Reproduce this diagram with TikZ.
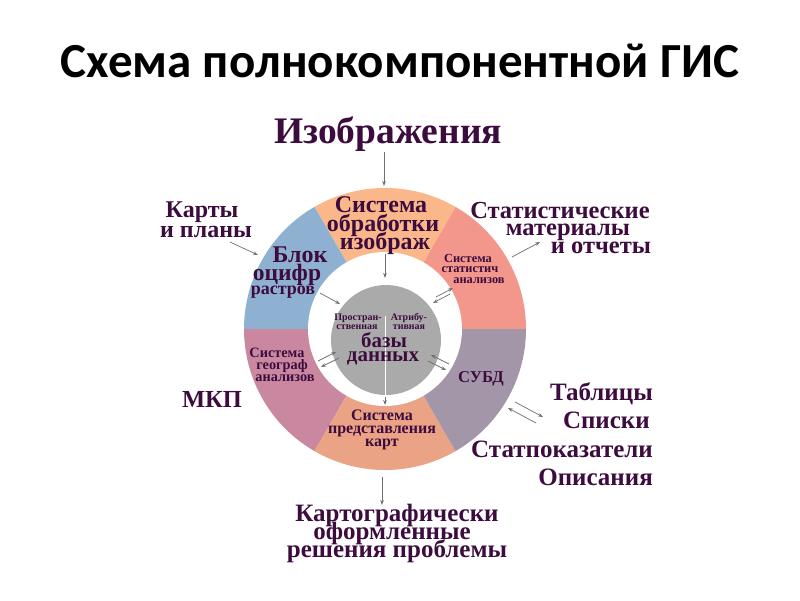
\documentclass[tikz,border=0pt]{standalone}
\usepackage{fontspec}
\setmainfont{Liberation Serif}
\newfontfamily\titlefont{Carlito}
\usetikzlibrary{arrows.meta}
\definecolor{txt}{HTML}{3D0C3E}
\definecolor{segTop}{HTML}{F9B78A}
\definecolor{segStat}{HTML}{F3968C}
\definecolor{segBlue}{HTML}{8FB1D1}
\definecolor{segMauve}{HTML}{C9889F}
\definecolor{segBot}{HTML}{EAA385}
\definecolor{segPurp}{HTML}{A496A9}
\definecolor{dbgray}{HTML}{AAAAAA}
\definecolor{arrgray}{HTML}{6F6F6F}
\begin{document}
\begin{tikzpicture}[x=1pt,y=-1pt,
  lbl/.style={text=txt,inner sep=0pt,anchor=base,font=\bfseries\fontsize{#1}{#1}\selectfont},
  lblr/.style={text=txt,inner sep=0pt,anchor=base east,font=\bfseries\fontsize{#1}{#1}\selectfont},
  arr/.style={draw=arrgray,line width=0.7pt,-{Stealth[length=5pt,width=3.6pt]}}]
\useasboundingbox[fill=white] (0,0) rectangle (800,600);

% ring
\begin{scope}[shift={(385,329)},y=1pt]
  \fill[segStat]  (0,0) -- (0:141pt)   arc[start angle=0,end angle=60,radius=141pt] -- cycle;
  \fill[segTop]   (0,0) -- (60:141pt)  arc[start angle=60,end angle=120,radius=141pt] -- cycle;
  \fill[segBlue]  (0,0) -- (120:141pt) arc[start angle=120,end angle=180,radius=141pt] -- cycle;
  \fill[segMauve] (0,0) -- (180:141pt) arc[start angle=180,end angle=240,radius=141pt] -- cycle;
  \fill[segBot]   (0,0) -- (240:141pt) arc[start angle=240,end angle=300,radius=141pt] -- cycle;
  \fill[segPurp]  (0,0) -- (300:141pt) arc[start angle=300,end angle=360,radius=141pt] -- cycle;
  \fill[white] (0,0) circle[radius=77pt];
  \fill[dbgray] (1pt,-11pt) circle[radius=55pt];
\end{scope}
\draw[white,line width=1pt] (385,316) -- (385,397);

% title
\node[inner sep=0pt,anchor=base,font=\titlefont\bfseries\fontsize{49}{49}\selectfont] (title) at (400,77) {Схема полнокомпонентной ГИС};

% outer labels
\node[lbl=37.5] (izo) at (388,143) {Изображения};
\node[lbl=24] (karty1) at (202,217) {Карты};
\node[lbl=24] (karty2) at (206,237) {и планы};
\node[lbl=24.5] (stat1) at (560,218) {Статистические};
\node[lbl=24.5] (stat2) at (568,235) {материалы};
\node[lbl=24.5] (stat3) at (601,253) {и отчеты};
\node[lbl=24.5] (mkp) at (212,407) {МКП};
\node[lblr=25] (tab1) at (653,400) {Таблицы};
\node[lblr=25] (tab2) at (650,428) {Списки};
\node[lblr=25] (tab3) at (653,457) {Статпоказатели};
\node[lblr=25] (tab4) at (653,485) {Описания};
\node[lbl=25] (kart1) at (397,521) {Картографически};
\node[lbl=25] (kart2) at (392,539) {оформленные};
\node[lbl=25] (kart3) at (397,557) {решения проблемы};

% ring labels
\node[lbl=24] (sys1) at (381,212) {Система};
\node[lbl=24] (sys2) at (383,231) {обработки};
\node[lbl=24] (sys3) at (385,249) {изображ};
\node[lbl=24] (blok1) at (300,262) {Блок};
\node[lbl=23.5] (blok2) at (287,280) {оцифр};
\node[lbl=18] (blok3) at (283,294) {растров};
\node[lbl=12.4] (st1) at (468,262) {Система};
\node[lbl=12.4] (st2) at (470,272.5) {статистич};
\node[lbl=12.4] (st3) at (479,283.5) {анализов};
\node[lbl=10] (pr1) at (358,320) {Простран-};
\node[lbl=10] (pr2) at (357,329) {ственная};
\node[lbl=10] (at1) at (409,320) {Атрибу-};
\node[lbl=10] (at2) at (409,329) {тивная};
\node[lbl=21] (bd1) at (384,347) {базы};
\node[lbl=21] (bd2) at (383,361) {данных};
\node[lbl=14.3] (geo1) at (277,357) {Система};
\node[lbl=14.3] (geo2) at (282,369) {географ};
\node[lbl=14.3] (geo3) at (285,381) {анализов};
\node[lbl=16.6] (subd) at (481,382) {СУБД};
\node[lbl=16] (pk1) at (382,420) {Система};
\node[lbl=16] (pk2) at (382,433) {представления};
\node[lbl=16] (pk3) at (382,446) {карт};

% arrow end points
\coordinate (izoS) at (384,152);   \coordinate (ringTop) at (384,186);
\coordinate (sysS) at (385,254);   \coordinate (dbTop) at (385,278);
\coordinate (blokS) at (320,293);  \coordinate (dbBL) at (340,304);
\coordinate (dbBot) at (385,397);  \coordinate (pkTop) at (385,405);
\coordinate (ringBot) at (382,477); \coordinate (kartTop) at (382,505);
\coordinate (kartyS) at (230,242); \coordinate (ringBL) at (258,255);
\coordinate (ringTR) at (512,257); \coordinate (statE) at (540,242);
\coordinate (stA1) at (436,297); \coordinate (stA2) at (453,288);
\coordinate (stB1) at (433,303); \coordinate (stB2) at (450,294);
\coordinate (geA1) at (318,361); \coordinate (geA2) at (336,352);
\coordinate (geB1) at (321,367); \coordinate (geB2) at (339,358);
\coordinate (sbA1) at (431,355); \coordinate (sbA2) at (449,364);
\coordinate (sbB1) at (428,361); \coordinate (sbB2) at (446,370);
\coordinate (tbA1) at (515,402); \coordinate (tbA2) at (543,417);
\coordinate (tbB1) at (508,408); \coordinate (tbB2) at (536,423);

\draw[arr] (izoS) -- (ringTop);
\draw[arr] (sysS) -- (dbTop);
\draw[arr] (blokS) -- (dbBL);
\draw[arr] (dbBot) -- (pkTop);
\draw[arr] (ringBot) -- (kartTop);
\draw[arr] (kartyS) -- (ringBL);
\draw[arr] (ringTR) -- (statE);
\draw[arr] (stA1) -- (stA2);
\draw[arr] (stB2) -- (stB1);
\draw[arr] (geA1) -- (geA2);
\draw[arr] (geB2) -- (geB1);
\draw[arr] (sbA2) -- (sbA1);
\draw[arr] (sbB1) -- (sbB2);
\draw[arr] (tbA1) -- (tbA2);
\draw[arr] (tbB2) -- (tbB1);
\end{tikzpicture}
\end{document}
